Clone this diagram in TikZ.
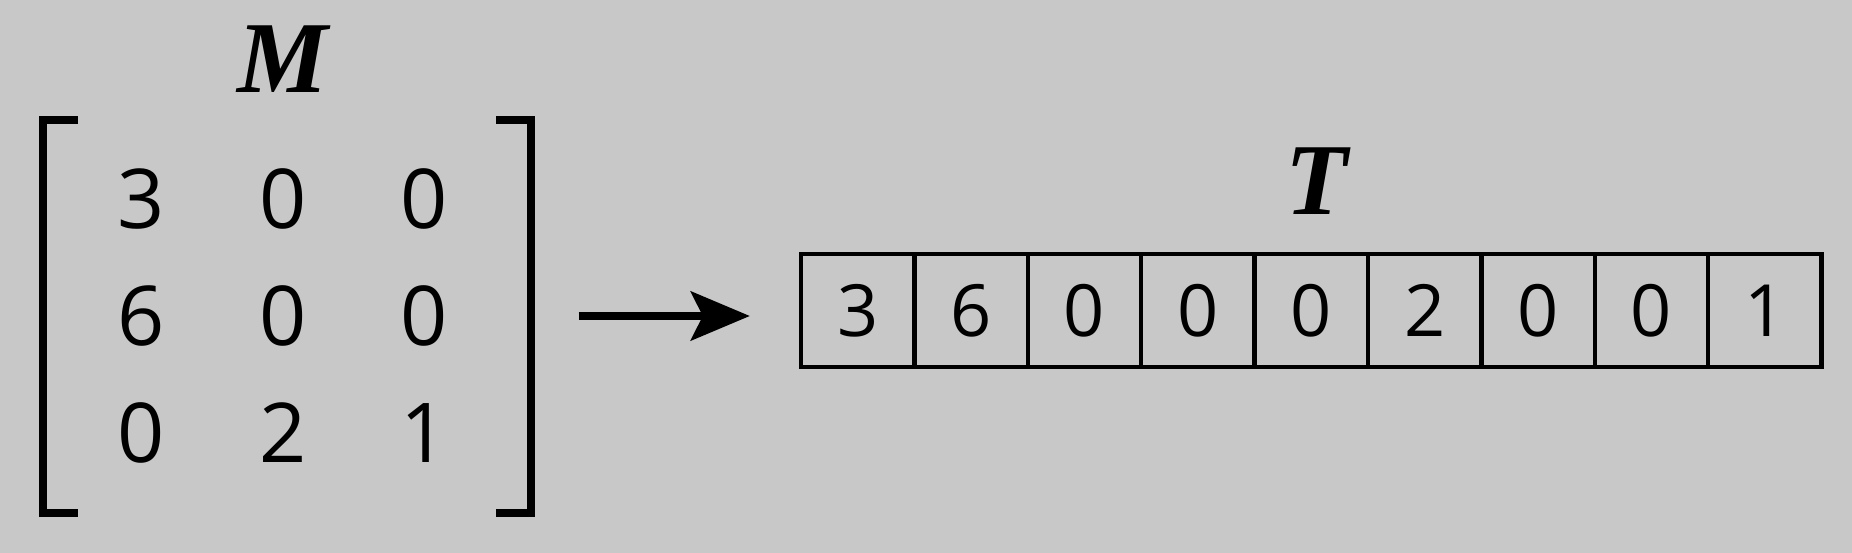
\RequirePackage{fix-cm}
\documentclass[tikz,border=0pt]{standalone}
\usepackage{amsmath}
\usepackage{fontspec}
\newfontfamily\digitfont{Open Sans}
\newfontfamily\titlefont{Liberation Serif}
\usetikzlibrary{matrix, arrows.meta, positioning}
\definecolor{bggray}{RGB}{200,200,200}

\begin{document}
\begin{tikzpicture}
  [
    x = 0.02cm, y = -0.02cm,  % one unit per pixel
    every node/.style = {inner sep=0pt},
    entry/.style = {font=\digitfont\fontsize{47}{50}\selectfont,
      minimum width=2.83cm, minimum height=2.34cm},
    cell/.style = {draw, line width=2.5pt, font=\digitfont\fontsize{41}{44}\selectfont,
      minimum width=2.268cm, minimum height=2.26cm},
    bracket/.style = {line width=5pt},
    pointer/.style = {line width=4.5pt, -{Stealth[length=1.18cm, width=0.98cm, inset=0.24cm]}},
    title/.style = {font=\titlefont\bfseries\itshape\fontsize{58}{60}\selectfont}
  ]
  \useasboundingbox[fill=bggray] (0,0) rectangle (1852,553);

  \matrix (Mat) at (283,316) [matrix of nodes, nodes={entry}] {
    3 & 0 & 0 \\
    6 & 0 & 0 \\
    0 & 2 & 1 \\
  };
  \draw[bracket] (78,120) -| (43,513) -- (78,513);
  \draw[bracket] (496,120) -| (531,513) -- (496,513);
  \node[title, above=0.95cm of Mat] (Mlab) {M};

  \foreach \val [count=\i] in {3,6,0,0,0,2,0,0,1}
    \node[cell] (c\i) at ({857.7+113.4*(\i-1)},310.5) {\val};
  \node[title, above=0.74cm of c5, xshift=0.1cm] (Tlab) {T};

  \draw[pointer, shorten <=1.66cm, shorten >=0.98cm] (Mat.east) -- (Mat.east -| c1.west);
\end{tikzpicture}
\end{document}
